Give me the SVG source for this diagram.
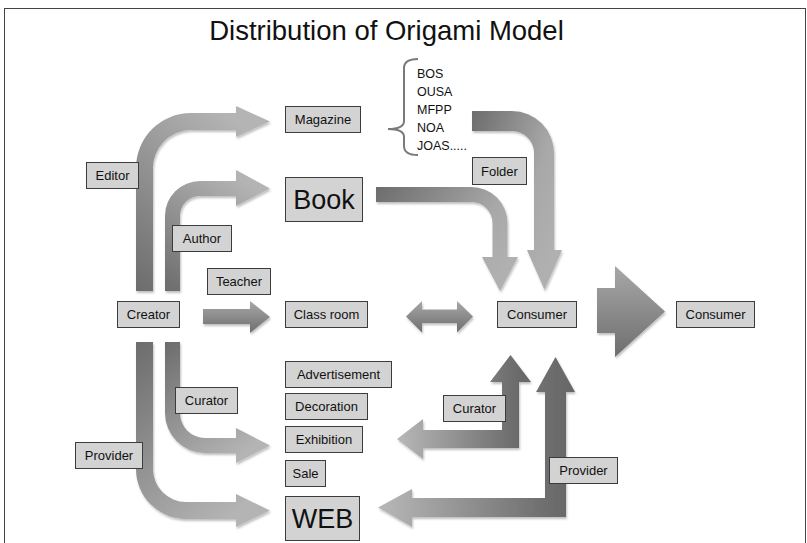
<svg xmlns="http://www.w3.org/2000/svg" width="807" height="543" viewBox="0 0 807 543">
<style>
.box{fill:#d3d3d3;stroke:#3c3c3c;stroke-width:1}
.lbl{font-family:"Liberation Sans",Arial,sans-serif;font-size:13px;fill:#111;text-anchor:middle}
.big{font-size:27px}
.lst{font-family:"Liberation Sans",Arial,sans-serif;font-size:12.5px;fill:#111}
.title{font-family:"Liberation Sans",Arial,sans-serif;font-size:27.5px;fill:#111;text-anchor:middle}
.arr{filter:url(#sh)}
</style>
<defs>
<filter id="sh" x="-10%" y="-10%" width="130%" height="130%">
<feDropShadow dx="1" dy="2" stdDeviation="1.2" flood-color="#000" flood-opacity="0.25"/>
</filter>
<linearGradient id="gUp" x1="0" y1="1" x2="0.6" y2="0"><stop offset="0" stop-color="#6c6c6c"/><stop offset="1" stop-color="#b4b4b4"/></linearGradient>
<linearGradient id="gDown" x1="0" y1="0" x2="0.6" y2="1"><stop offset="0" stop-color="#6c6c6c"/><stop offset="1" stop-color="#b4b4b4"/></linearGradient>
<linearGradient id="gRightDown" x1="0" y1="0" x2="1" y2="0.6"><stop offset="0" stop-color="#6c6c6c"/><stop offset="0.7" stop-color="#a8a8a8"/><stop offset="1" stop-color="#b0b0b0"/></linearGradient>
<linearGradient id="gLeft" x1="0" y1="0" x2="1" y2="0"><stop offset="0" stop-color="#b8b8b8"/><stop offset="0.85" stop-color="#6e6e6e"/><stop offset="1" stop-color="#666"/></linearGradient>
<linearGradient id="gV" x1="0" y1="0" x2="0" y2="1"><stop offset="0" stop-color="#a8a8a8"/><stop offset="1" stop-color="#6e6e6e"/></linearGradient>
</defs>
<rect x="4.5" y="8.5" width="801" height="545" fill="#fff" stroke="#444" stroke-width="1"/>
<text class="title" x="386.5" y="40">Distribution of Origami Model</text>

<g id="connectors">
<path class="arr" fill="url(#gUp)" d="M136,291 L136,168 A55,55 0 0 1 191,113 L236,113 L236,106 L270,121.5 L236,137 L236,130 L191,130 A38,38 0 0 0 153,168 L153,291 Z"/>
<path class="arr" fill="url(#gUp)" d="M165,291 L165,216 A35,35 0 0 1 200,181 L236,181 L236,170 L270,188.5 L236,206 L236,196 L200,196 A20,20 0 0 0 180,216 L180,291 Z"/>
<path class="arr" fill="url(#gV)" d="M203,309 L250,309 L250,301 L270,317 L250,333 L250,324 L203,324 Z"/>
<path class="arr" fill="url(#gV)" d="M406,316.5 L422,301 L422,309.5 L457,309.5 L457,301 L473,316.5 L457,332.5 L457,323 L422,323 L422,332.5 Z"/>
<path class="arr" fill="url(#gV)" d="M597,288 L615,288 L615,266 L665,311.5 L615,357 L615,333 L597,333 Z"/>
<path class="arr" fill="url(#gRightDown)" d="M376,187 L471.5,187 A36,36 0 0 1 507.5,223 L507.5,257 L518,257 L500,291 L482,257 L492.5,257 L492.5,223 A21,21 0 0 0 471.5,202 L376,202 Z"/>
<path class="arr" fill="url(#gRightDown)" d="M472,111 L512,111 A42,42 0 0 1 554,153 L554,250 L562,250 L544.5,290 L527,250 L534,250 L534,153 A22,22 0 0 0 512,131 L472,131 Z"/>
<path class="arr" fill="url(#gLeft)" d="M510.5,355 L531,382 L519,382 L519,448 L423,448 L423,459 L397,439 L423,419 L423,430 L502,430 L502,382 L490,382 Z"/>
<path class="arr" fill="url(#gLeft)" d="M555.5,357 L575,392 L566,392 L566,517 L412,517 L412,527 L378,507.5 L412,489 L412,498 L545,498 L545,392 L536,392 Z"/>
<path class="arr" fill="url(#gDown)" d="M165,342 L180,342 L180,413 A25,25 0 0 0 205,438 L236,438 L236,428 L270,445.5 L236,463 L236,453 L205,453 A40,40 0 0 1 165,413 Z"/>
<path class="arr" fill="url(#gDown)" d="M136,342 L153,342 L153,469 A33,33 0 0 0 186,502 L236,502 L236,494 L270,510.5 L236,527 L236,519 L186,519 A50,50 0 0 1 136,469 Z"/>
</g>

<g id="list">
<path d="M418,59 Q404,59 404,68 L404,121 Q404,129 388,129 Q404,129 404,137 L404,146 Q404,155 418,155" fill="none" stroke="#7a7a7a" stroke-width="2"/>
<text class="lst" x="417" y="78">BOS</text>
<text class="lst" x="417" y="96">OUSA</text>
<text class="lst" x="417" y="114">MFPP</text>
<text class="lst" x="417" y="132">NOA</text>
<text class="lst" x="417" y="150">JOAS.....</text>
</g>

<g id="magazine"><rect class="box" x="285.5" y="106.5" width="75" height="26"/><text class="lbl" x="323" y="124">Magazine</text></g>
<g id="book"><rect class="box" x="285.5" y="177.5" width="77" height="44"/><text class="lbl big" x="324" y="209">Book</text></g>
<g id="editor"><rect class="box" x="86.5" y="162.5" width="52" height="26"/><text class="lbl" x="112.5" y="180">Editor</text></g>
<g id="author"><rect class="box" x="172.5" y="225.5" width="59" height="26"/><text class="lbl" x="202" y="243">Author</text></g>
<g id="teacher"><rect class="box" x="207.5" y="268.5" width="63" height="26"/><text class="lbl" x="239" y="286">Teacher</text></g>
<g id="creator"><rect class="box" x="117.5" y="301.5" width="62" height="26"/><text class="lbl" x="148.5" y="319">Creator</text></g>
<g id="classroom"><rect class="box" x="285.5" y="301.5" width="82" height="26"/><text class="lbl" x="326.5" y="319">Class room</text></g>
<g id="consumer1"><rect class="box" x="497.5" y="301.5" width="79" height="26"/><text class="lbl" x="537" y="319">Consumer</text></g>
<g id="consumer2"><rect class="box" x="676.5" y="301.5" width="78" height="26"/><text class="lbl" x="715.5" y="319">Consumer</text></g>
<g id="folder"><rect class="box" x="472.5" y="157.5" width="54" height="27"/><text class="lbl" x="499.5" y="175.5">Folder</text></g>
<g id="advertisement"><rect class="box" x="285.5" y="361.5" width="106" height="26"/><text class="lbl" x="338.5" y="379">Advertisement</text></g>
<g id="decoration"><rect class="box" x="285.5" y="393.5" width="82" height="26"/><text class="lbl" x="326.5" y="411">Decoration</text></g>
<g id="exhibition"><rect class="box" x="285.5" y="426.5" width="77" height="26"/><text class="lbl" x="324" y="444">Exhibition</text></g>
<g id="sale"><rect class="box" x="285.5" y="460.5" width="40" height="26"/><text class="lbl" x="305.5" y="478">Sale</text></g>
<g id="web"><rect class="box" x="285.5" y="496.5" width="74" height="44"/><text class="lbl big" x="322.5" y="528">WEB</text></g>
<g id="curator1"><rect class="box" x="175.5" y="387.5" width="62" height="26"/><text class="lbl" x="206.5" y="405">Curator</text></g>
<g id="provider1"><rect class="box" x="75.5" y="442.5" width="67" height="26"/><text class="lbl" x="109" y="460">Provider</text></g>
<g id="curator2"><rect class="box" x="443.5" y="395.5" width="62" height="26"/><text class="lbl" x="474.5" y="413">Curator</text></g>
<g id="provider2"><rect class="box" x="549.5" y="457.5" width="68" height="26"/><text class="lbl" x="583.5" y="475">Provider</text></g>
</svg>
